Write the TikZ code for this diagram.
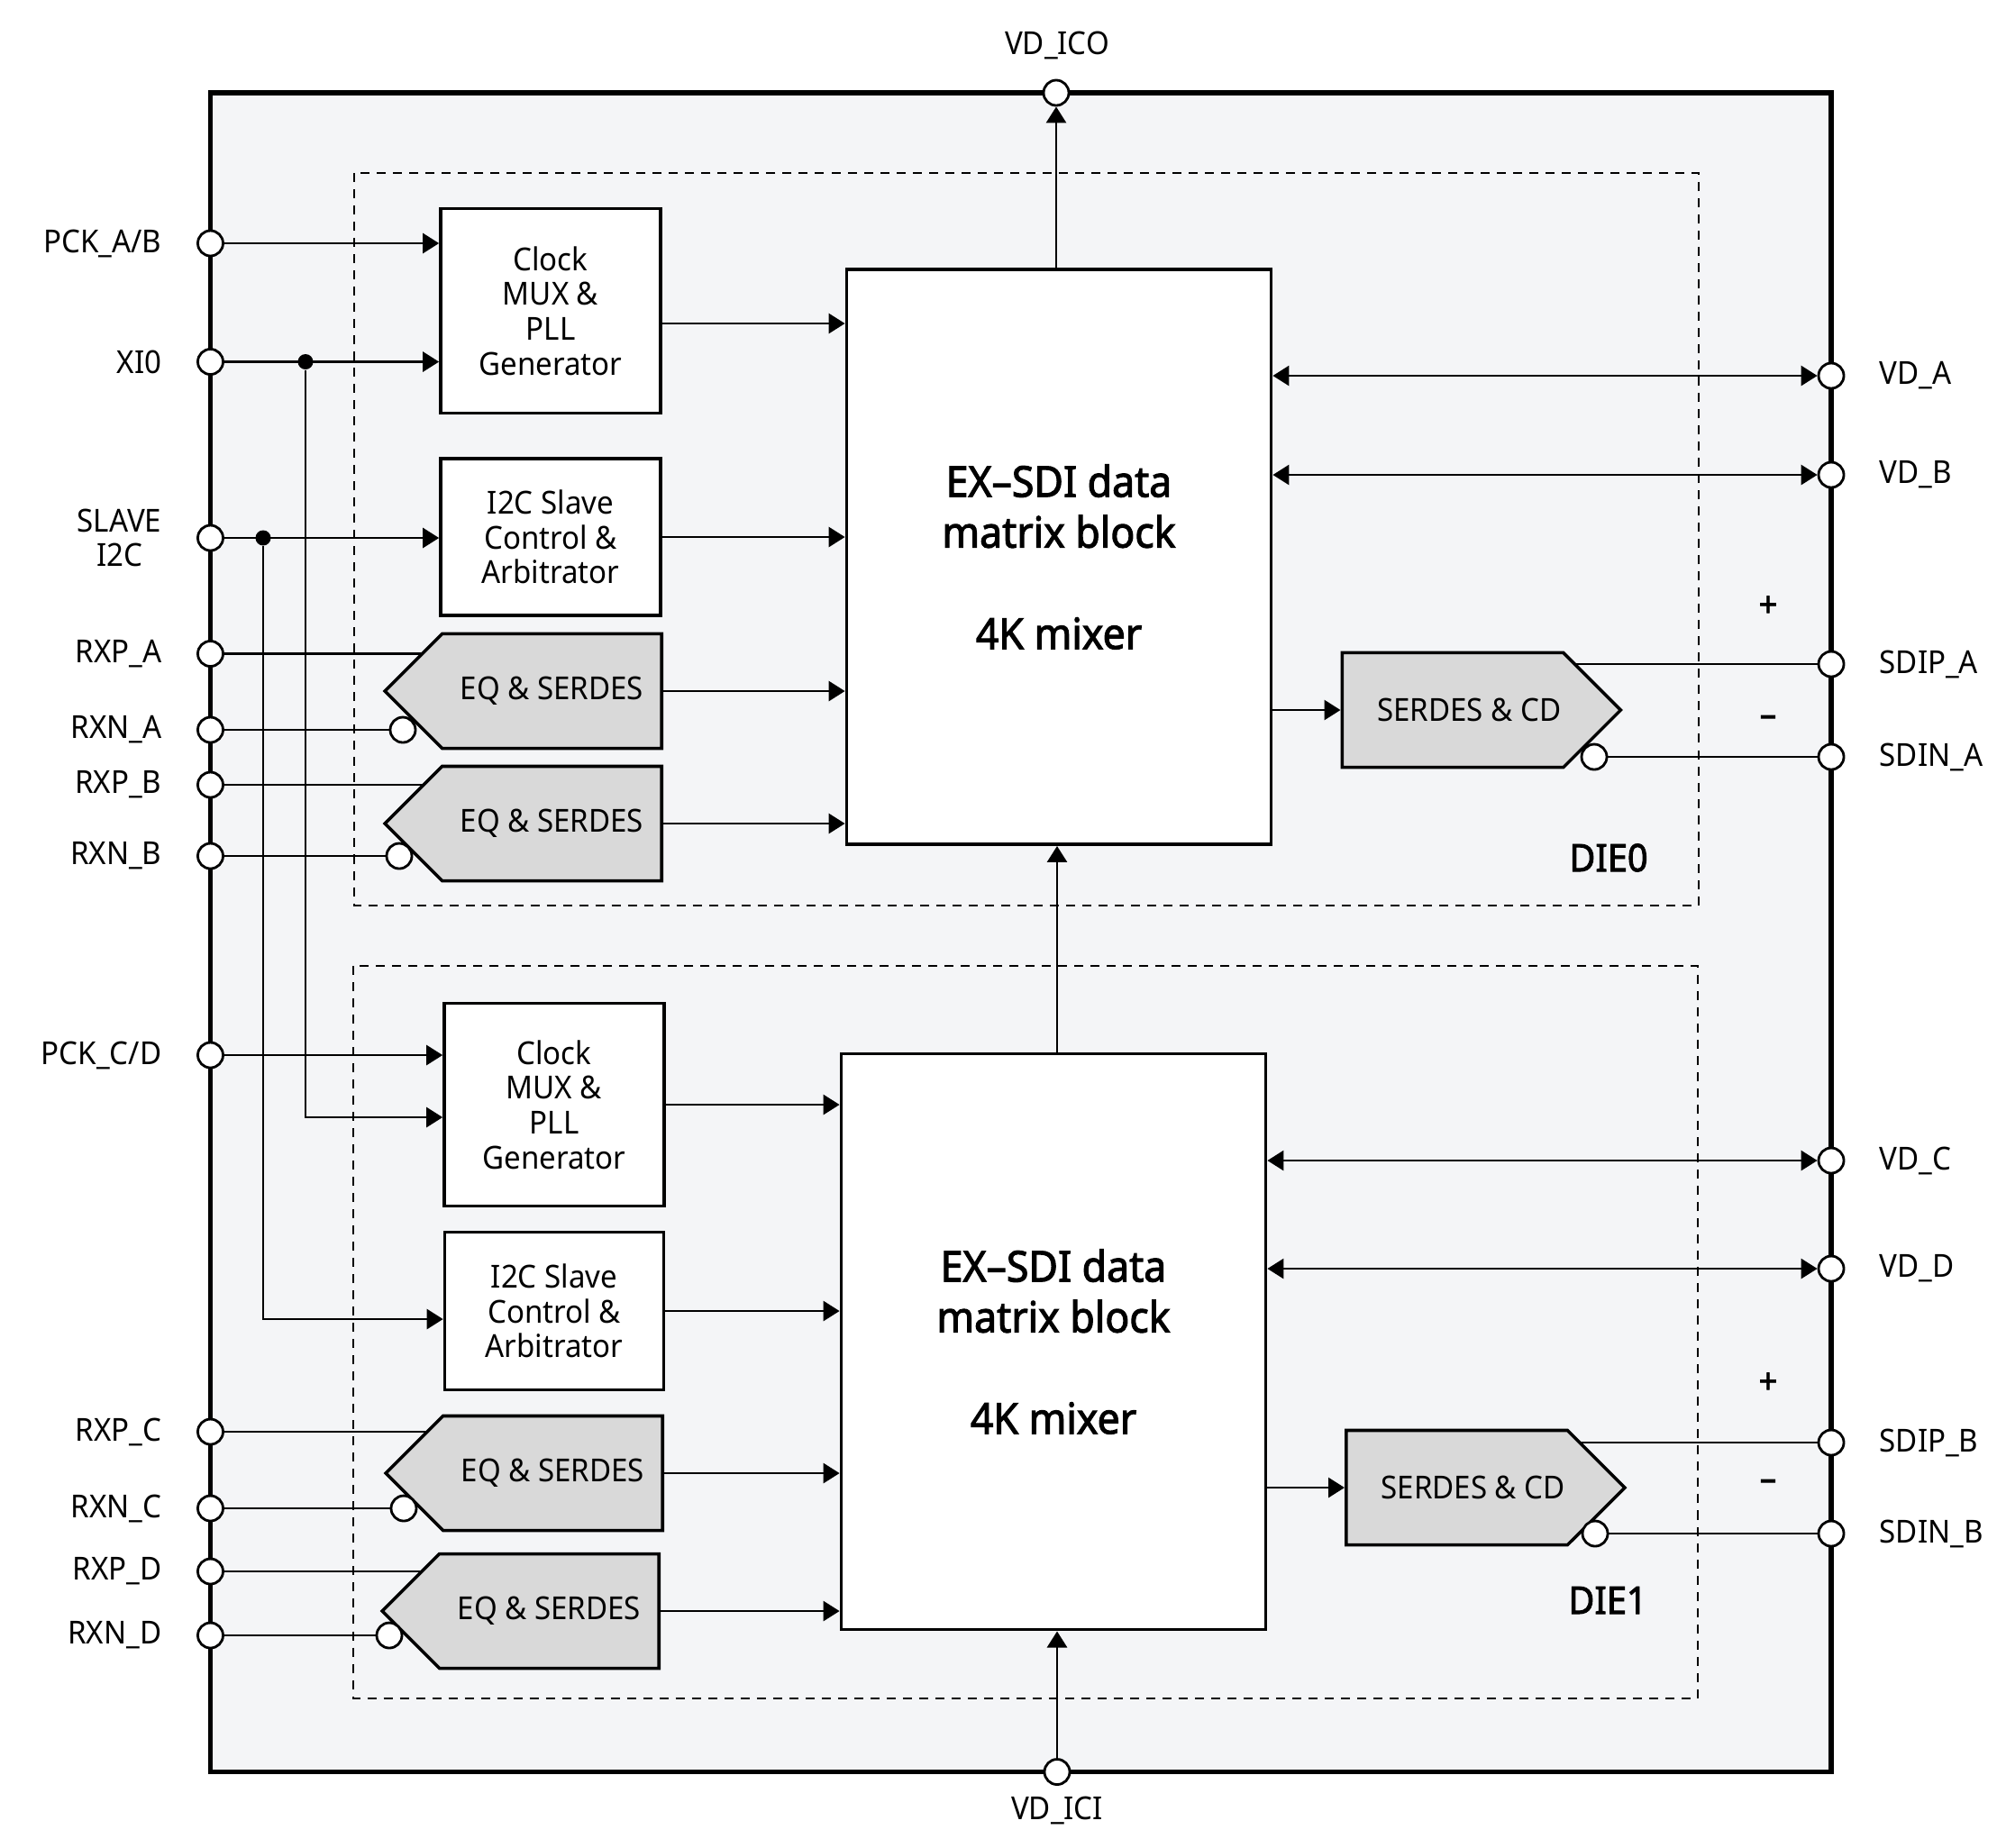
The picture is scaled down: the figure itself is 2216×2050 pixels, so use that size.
\documentclass[tikz,border=0pt]{standalone}
\usepackage{fontspec}
\setmainfont{Noto Sans}[FakeStretch=0.94, BoldFont={Noto Sans}, BoldFeatures={FakeBold=2.2}]
\usetikzlibrary{arrows.meta, shapes.symbols}
\pgfdeclarelayer{background}
\pgfsetlayers{background,main}
\definecolor{chipbg}{HTML}{F4F5F7}
\definecolor{eqgray}{HTML}{D9D9D9}

\begin{document}
\begin{tikzpicture}[x=0.01cm, y=-0.01cm,
    lbl/.style={font=\fontsize{10}{11}\selectfont, align=center, inner sep=0pt},
    iopad/.style={circle, draw, fill=white, line width=0.8pt, inner sep=0pt, minimum size=0.28cm},
    blockbox/.style={draw, fill=white, line width=1pt, align=center, inner sep=0pt,
      font=\fontsize{10}{11}\selectfont},
    matrixbox/.style={blockbox, font=\fontsize{13.5}{16}\selectfont\bfseries},
    rxbox/.style={signal, signal to=west, signal pointer angle=90, draw, fill=eqgray,
      line width=1pt, inner sep=0pt, minimum height=1.27cm, minimum width=3.07cm,
      font=\fontsize{10}{11}\selectfont},
    txbox/.style={rxbox, signal to=east, minimum width=3.09cm},
    wire/.style={line width=0.8pt},
    arr/.style={wire, -{Triangle[length=0.18cm, width=0.22cm]}},
    biarr/.style={wire, {Triangle[length=0.18cm, width=0.22cm]}-{Triangle[length=0.18cm, width=0.22cm]}},
    diebox/.style={line width=0.75pt, dash pattern=on 0.1cm off 0.08cm},
    jdot/.style={circle, fill, inner sep=0pt, minimum size=0.17cm},
    dielbl/.style={font=\fontsize{12}{14}\selectfont\bfseries},
    polar/.style={lbl, font=\fontsize{11}{12}\selectfont\bfseries}
  ]
  \useasboundingbox (0,0) rectangle (2216,2050);

  % Chip outline and the two dies
  \begin{pgfonlayer}{background}
    \draw[line width=1.5pt, fill=chipbg] (233.5,103) rectangle (2032,1966.5);
    \draw[diebox] (393,192) rectangle (1885,1005);
    \draw[diebox] (392,1072) rectangle (1884,1885);
  \end{pgfonlayer}

  % DIE0 blocks
  \node[blockbox, minimum width=2.44cm, minimum height=2.27cm] (clk1) at (611,345)
    {Clock\\MUX \&\\PLL\\Generator};
  \node[blockbox, minimum width=2.44cm, minimum height=1.74cm] (i2c1) at (611,596)
    {I2C Slave\\Control \&\\Arbitrator};
  \node[rxbox, anchor=east] (eq1) at (736,767) {EQ \& SERDES\hspace{0.18cm}};
  \node[rxbox, anchor=east] (eq2) at (736,914) {EQ \& SERDES\hspace{0.18cm}};
  \node[matrixbox, minimum width=4.71cm, minimum height=6.38cm] (blk1) at (1175,618)
    {EX–SDI data\\matrix block\\[16pt]4K mixer};
  \node[txbox, anchor=west] (ser1) at (1487.5,788) {\hspace{0.36cm}SERDES \& CD};

  % DIE1 blocks
  \node[blockbox, minimum width=2.44cm, minimum height=2.25cm] (clk2) at (615,1226)
    {Clock\\MUX \&\\PLL\\Generator};
  \node[blockbox, minimum width=2.43cm, minimum height=1.75cm] (i2c2) at (615,1455)
    {I2C Slave\\Control \&\\Arbitrator};
  \node[rxbox, anchor=east] (eq3) at (737,1635) {EQ \& SERDES\hspace{0.18cm}};
  \node[rxbox, anchor=east] (eq4) at (733,1788) {EQ \& SERDES\hspace{0.18cm}};
  \node[matrixbox, minimum width=4.71cm, minimum height=6.39cm] (blk2) at (1169,1489)
    {EX–SDI data\\matrix block\\[16pt]4K mixer};
  \node[txbox, anchor=west] (ser2) at (1492,1651) {\hspace{0.36cm}SERDES \& CD};

  % Pads on the left side
  \foreach \n/\y/\t in {pckab/270/{PCK\_A/B}, xio/401.5/XI0, slave/597/{SLAVE\\I2C},
      rxpa/725.5/RXP\_A, rxna/810/RXN\_A, rxpb/871/RXP\_B, rxnb/950/RXN\_B,
      pckcd/1171/{PCK\_C/D}, rxpc/1589/RXP\_C, rxnc/1674/RXN\_C,
      rxpd/1744/RXP\_D, rxnd/1815/RXN\_D} {
    \node[iopad] (\n) at (233.5,\y) {};
    \node[lbl, anchor=east] (\n-t) at (180,\y) {\t};
  }

  % Pads on the right side
  \foreach \n/\y/\t in {vda/417/VD\_A, vdb/527/VD\_B, sdipa/737/SDIP\_A, sdina/840/SDIN\_A,
      vdc/1288/VD\_C, vdd/1408/VD\_D, sdipb/1601/SDIP\_B, sdinb/1702/SDIN\_B} {
    \node[iopad] (\n) at (2032,\y) {};
    \node[lbl, anchor=west] (\n-t) at (2085,\y) {\t};
  }

  % Pads top and bottom
  \node[iopad] (vdico) at (1172,103) {};
  \node[lbl] (vdico-t) at (1173,50) {VD\_ICO};
  \node[iopad] (vdici) at (1173,1966.5) {};
  \node[lbl] (vdici-t) at (1173,2009) {VD\_ICI};

  % Inverting inputs
  \foreach \n/\x/\y in {inv1/447/810, inv2/443/950, inv3/448/1674, inv4/432/1815,
      inv5/1769/840, inv6/1770/1702}
    \node[iopad] (\n) at (\x,\y) {};

  % Polarity marks and die names
  \node[polar] (pa) at (1962,673) {+};
  \node[polar] (ma) at (1962,800) {–};
  \node[polar] (pb) at (1962,1535) {+};
  \node[polar] (mb) at (1962,1648) {–};
  \node[dielbl] (die0) at (1785,952) {DIE0};
  \node[dielbl] (die1) at (1784,1776) {DIE1};

  % Clock and I2C inputs
  \node[jdot] (jxi) at (339,401.5) {};
  \node[jdot] (jsl) at (292,597) {};
  \draw[arr] (pckab) -- (pckab -| clk1.west);
  \draw[arr] (xio) -- (xio -| clk1.west);
  \draw[arr] (slave) -- (slave -| i2c1.west);
  \draw[arr] (pckcd) -- (pckcd -| clk2.west);
  \draw[arr] (jxi) |- ([yshift=-0.14cm]clk2.west);
  \draw[arr] (jsl) |- ([yshift=-0.09cm]i2c2.west);

  % Receiver inputs (positive leg runs under the shape)
  \begin{pgfonlayer}{background}
    \draw[wire] (rxpa) -- (rxpa -| eq1.east);
    \draw[wire] (rxpb) -- (rxpb -| eq2.east);
    \draw[wire] (rxpc) -- (rxpc -| eq3.east);
    \draw[wire] (rxpd) -- (rxpd -| eq4.east);
    \draw[wire] (sdipa) -- (sdipa -| ser1.west);
    \draw[wire] (sdipb) -- (sdipb -| ser2.west);
  \end{pgfonlayer}
  \draw[wire] (rxna) -- (inv1);
  \draw[wire] (rxnb) -- (inv2);
  \draw[wire] (rxnc) -- (inv3);
  \draw[wire] (rxnd) -- (inv4);
  \draw[wire] (inv5) -- (sdina);
  \draw[wire] (inv6) -- (sdinb);

  % Into the matrix blocks
  \draw[arr] ([yshift=-0.14cm]clk1.east) -- ([yshift=-0.14cm]clk1.east -| blk1.west);
  \draw[arr] (i2c1.east) -- (i2c1.east -| blk1.west);
  \draw[arr] (eq1.east) -- (eq1.east -| blk1.west);
  \draw[arr] (eq2.east) -- (eq2.east -| blk1.west);
  \draw[arr] (clk2.east) -- (clk2.east -| blk2.west);
  \draw[arr] (i2c2.east) -- (i2c2.east -| blk2.west);
  \draw[arr] (eq3.east) -- (eq3.east -| blk2.west);
  \draw[arr] (eq4.east) -- (eq4.east -| blk2.west);

  % Outputs and video ports
  \draw[arr] (ser1.west -| blk1.east) -- (ser1.west);
  \draw[arr] (ser2.west -| blk2.east) -- (ser2.west);
  \foreach \p in {vda, vdb}
    \draw[biarr] (\p -| blk1.east) -- (\p);
  \foreach \p in {vdc, vdd}
    \draw[biarr] (\p -| blk2.east) -- (\p);

  % Cascade between the dies
  \draw[arr] (blk1.north -| vdico) -- (vdico);
  \draw[arr] (vdici |- blk2.north) -- (vdici |- blk1.south);
  \draw[arr] (vdici) -- (vdici |- blk2.south);
\end{tikzpicture}
\end{document}
